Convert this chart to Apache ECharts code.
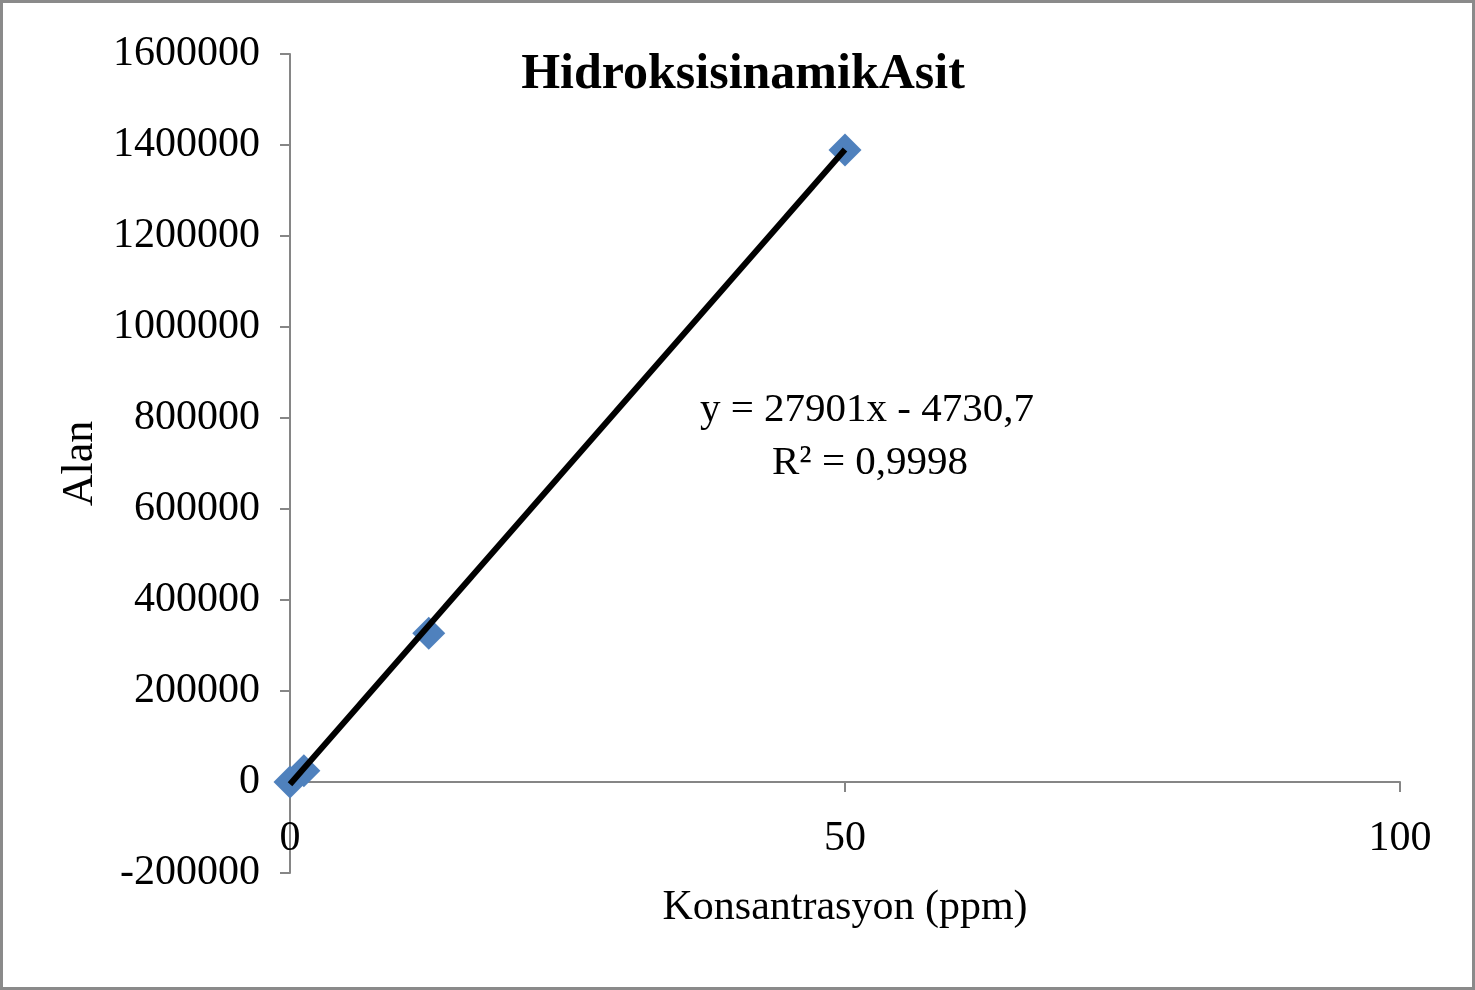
<!DOCTYPE html>
<html>
<head>
<meta charset="utf-8">
<script src="https://cdn.jsdelivr.net/npm/echarts@6/dist/echarts.min.js"></script>
<style>
  html, body { margin: 0; padding: 0; background: #fff; }
  #frame { position: absolute; left: 0; top: 0; width: 1475px; height: 990px; box-sizing: border-box; border: 3px solid #8a8a8a; }
  #chart { position: absolute; left: 0; top: 0; width: 1475px; height: 990px; }
</style>
</head>
<body>
<div id="chart"></div>
<div id="frame"></div>
<script>
// Calibration points: concentration (ppm) vs peak area
const concentrations = [0, 1.25, 12.5, 50];
const areas = [0, 25000, 327000, 1389000];

// Linear trendline parameters
const slope = 27901;
const intercept = -4730.7;
const trendRange = [0, 50];
const equationText = 'y = 27901x - 4730,7';
const r2Text = 'R² = 0,9998';

const yTicks = { min: -200000, max: 1600000, interval: 200000 };
const xTicks = { min: 0, max: 100, interval: 50 };

const serif = '"Liberation Serif", "Times New Roman", "DejaVu Serif", serif';
const axisGray = '#868686';

const gridBox = { left: 290, right: 75, top: 54, bottom: 117 };
const chartH = 990;
const plotH = chartH - gridBox.top - gridBox.bottom;
// lift the x axis so that it sits on the y = 0 line
const xAxisOffset = -((0 - yTicks.min) / (yTicks.max - yTicks.min)) * plotH;

const points = concentrations.map((c, i) => [c, areas[i]]);
const trend = trendRange.map(x => [x, slope * x + intercept]);

const chart = echarts.init(document.getElementById('chart'));
chart.setOption({
  animation: false,
  backgroundColor: '#ffffff',
  title: {
    text: 'HidroksisinamikAsit',
    left: 738,
    top: 45,
    textAlign: 'center',
    textStyle: { fontFamily: serif, fontWeight: 'bold', fontSize: 50, color: '#000' }
  },
  grid: Object.assign({ outerBoundsMode: 'none', containLabel: false }, gridBox),
  xAxis: {
    type: 'value',
    position: 'bottom',
    offset: xAxisOffset,
    min: xTicks.min, max: xTicks.max, interval: xTicks.interval,
    name: 'Konsantrasyon (ppm)',
    nameLocation: 'middle',
    nameGap: 105,
    nameTextStyle: { fontFamily: serif, fontSize: 42, color: '#000' },
    axisLine: { onZero: false, lineStyle: { color: axisGray, width: 2 } },
    axisTick: { show: true, length: 10, lineStyle: { color: axisGray, width: 2 } },
    axisLabel: { fontFamily: serif, fontSize: 42, color: '#000', margin: 36 },
    splitLine: { show: false }
  },
  yAxis: {
    type: 'value',
    min: yTicks.min, max: yTicks.max, interval: yTicks.interval,
    name: 'Alan',
    nameLocation: 'middle',
    nameGap: 183,
    nameRotate: 90,
    nameTextStyle: { fontFamily: serif, fontSize: 44, color: '#000' },
    axisLine: { show: true, onZero: false, lineStyle: { color: axisGray, width: 2 } },
    axisTick: { show: true, length: 10, lineStyle: { color: axisGray, width: 2 } },
    axisLabel: { fontFamily: serif, fontSize: 42, color: '#000', margin: 30, formatter: v => String(v) },
    splitLine: { show: false }
  },
  series: [
    {
      type: 'scatter',
      data: points,
      symbol: 'diamond',
      symbolSize: 33,
      itemStyle: { color: '#4F81BD', opacity: 1 },
      z: 2
    },
    {
      type: 'line',
      data: trend,
      showSymbol: false,
      lineStyle: { color: '#000', width: 6 },
      z: 3
    }
  ],
  graphic: [
    {
      type: 'text',
      left: 700,
      top: 390,
      style: { text: equationText, fontFamily: serif, fontSize: 41, fill: '#000' }
    },
    {
      type: 'text',
      left: 772,
      top: 443,
      style: { text: r2Text, fontFamily: serif, fontSize: 41, fill: '#000' }
    }
  ]
});
</script>
</body>
</html>
